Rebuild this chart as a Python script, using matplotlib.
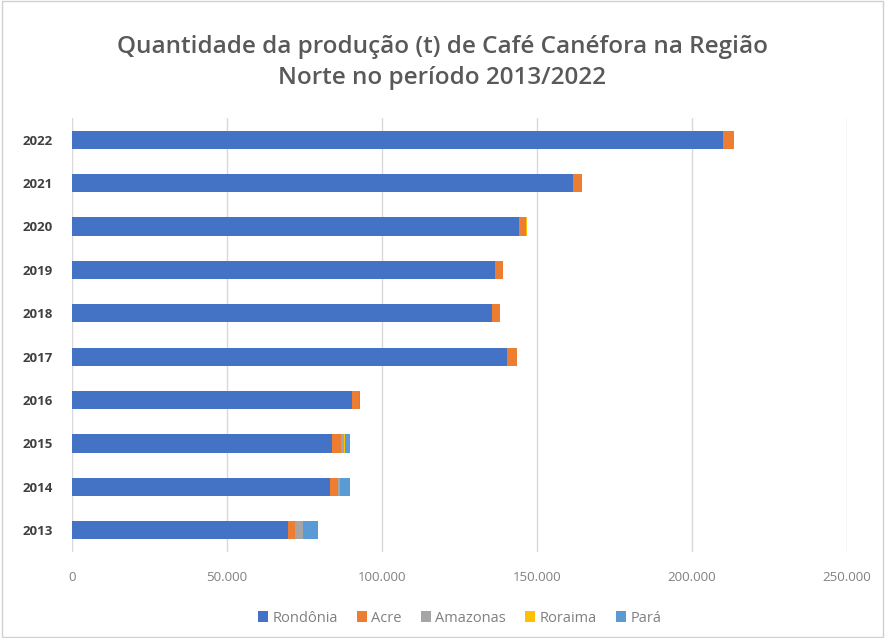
import matplotlib.pyplot as plt
import numpy as np

# produção de café canéfora (t), região Norte
anos = ["2013", "2014", "2015", "2016", "2017", "2018", "2019", "2020", "2021", "2022"]
rondonia = [69700, 83200, 83900, 90200, 140300, 135500, 136500, 144200, 161600, 210000]
acre = [2200, 2600, 3000, 2400, 3200, 2500, 2500, 2300, 2900, 3500]
amazonas = [2600, 700, 1000, 100, 100, 100, 100, 100, 100, 100]
roraima = [100, 100, 100, 30, 30, 30, 30, 30, 30, 30]
para = [4900, 3000, 1600, 100, 50, 50, 50, 50, 50, 50]

series = [("Rondônia", rondonia, "#4472C4"),
          ("Acre", acre, "#ED7D31"),
          ("Amazonas", amazonas, "#A5A5A5"),
          ("Roraima", roraima, "#FFC000"),
          ("Pará", para, "#5B9BD5")]

plt.rcParams['font.family'] = ['Open Sans', 'DejaVu Sans']

fig = plt.figure(figsize=(8.85, 6.38), dpi=100)
ax = fig.add_axes([0.0814, 0.135, 0.8756, 0.68])

y = np.arange(len(anos))
left = np.zeros(len(anos))
for nome, vals, cor in series:
    ax.barh(y, vals, left=left, height=0.42, color=cor, label=nome, zorder=3)
    left += np.array(vals)

ax.set_xlim(0, 250000)
ax.set_ylim(-0.5, len(anos) - 0.5)
ax.set_xticks(np.arange(0, 250001, 50000))
ax.set_xticklabels([f"{v:,}".replace(",", ".") for v in range(0, 250001, 50000)],
                   color="#808080", fontsize=9.5)
ax.set_yticks(y)
ax.set_yticklabels(anos, color="#404040", fontsize=9.5, fontweight="bold")
ax.tick_params(length=0)
ax.tick_params(axis="x", pad=14)
ax.tick_params(axis="y", pad=14)
ax.grid(axis="x", color="#D9D9D9", linewidth=1, zorder=0)
for s in ax.spines.values():
    s.set_visible(False)

fig.text(0.5, 0.902, "Quantidade da produção (t) de Café Canéfora na Região\nNorte no período 2013/2022",
         ha="center", va="center", fontsize=17.5, fontweight="semibold", color="#595959",
         linespacing=1.4)

ax.legend(loc="upper center", bbox_to_anchor=(0.5, -0.105), ncol=5, frameon=False,
          fontsize=10.5, labelcolor="#808080", handlelength=0.7, handleheight=0.7,
          handletextpad=0.3, columnspacing=1.3)

fig.patches.append(plt.Rectangle((0.002, 0.002), 0.996, 0.996, transform=fig.transFigure,
                                 fill=False, edgecolor="#D0D0D0", linewidth=1))

fig.savefig("out.png", dpi=100)
